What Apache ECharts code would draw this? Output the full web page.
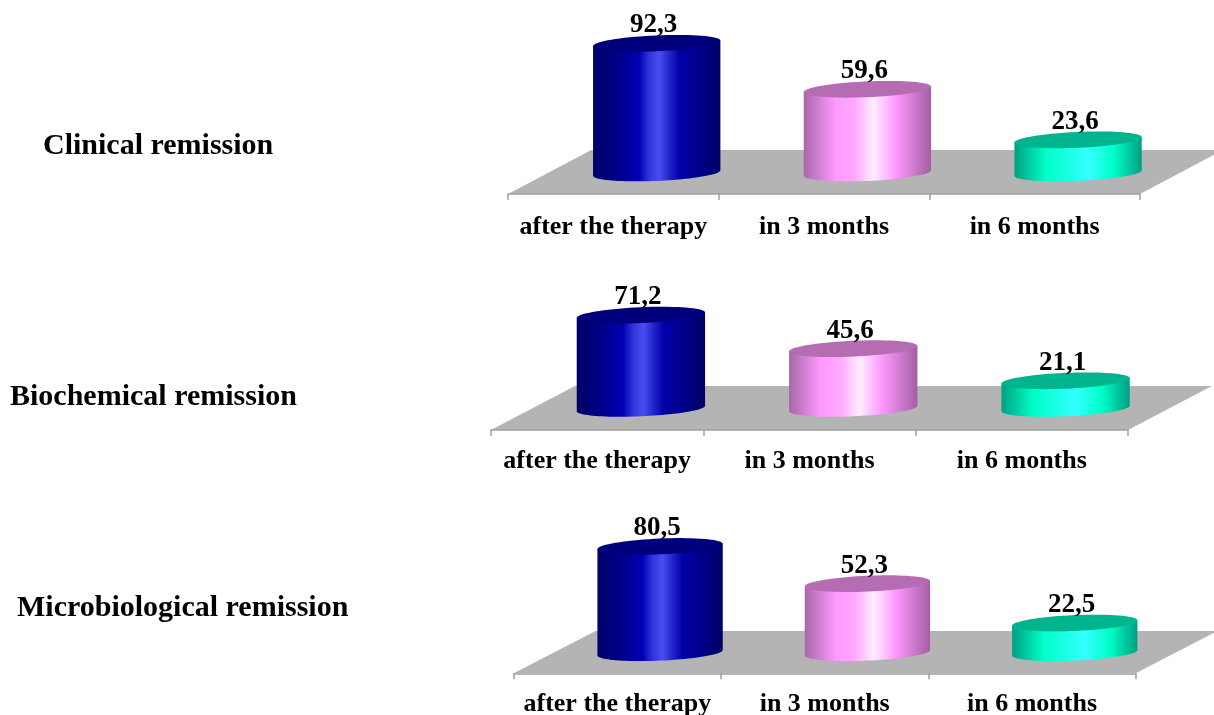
<!DOCTYPE html>
<html>
<head>
<meta charset="utf-8">
<style>html,body{margin:0;padding:0;background:#fff}#chart{width:1214px;height:715px}</style>
<script src="https://cdn.jsdelivr.net/npm/echarts@6/dist/echarts.min.js"></script>
</head>
<body>
<div id="chart"></div>
<script>
// Remission rates at three follow-up points
const periods = ['after the therapy', 'in 3 months', 'in 6 months'];
const clinicalRemission = [92.3, 59.6, 23.6];
const biochemicalRemission = [71.2, 45.6, 21.1];
const microbiologicalRemission = [80.5, 52.3, 22.5];

// Panel layout: plot box on the floor's mid line, plus how far the floor extends around it
const panels = [
  { name: 'Clinical remission', values: clinicalRemission, left: 508, width: 632, top: 32.5, bottom: 173, front: 21, back: 23, labelGap: 20, titleX: 43, titleY: 146 },
  { name: 'Biochemical remission', values: biochemicalRemission, left: 491, width: 637, top: 277.4, bottom: 408.4, front: 21.6, back: 22.4, labelGap: 18, titleX: 10, titleY: 397 },
  { name: 'Microbiological remission', values: microbiologicalRemission, left: 513.7, width: 622, top: 520.7, bottom: 652.7, front: 20.6, back: 21.7, labelGap: 18, titleX: 17, titleY: 608 }
];

const serif = '"Liberation Serif", "Times New Roman", serif';

// Side shading and cap colour of each cylinder
const shades = [
  { cap: '#00007c', side: [[0, '#000068'], [0.2, '#00008a'], [0.36, '#0000b4'], [0.44, '#3034dc'], [0.52, '#4a4cf0'], [0.6, '#2024cc'], [0.68, '#0000a8'], [0.85, '#000088'], [1, '#000064']] },
  { cap: '#b56cb2', side: [[0, '#a868a8'], [0.25, '#ff99ff'], [0.4, '#ffa8ff'], [0.55, '#ffeeff'], [0.72, '#ff99ff'], [1, '#a45ea4']] },
  { cap: '#00b48e', side: [[0, '#00a080'], [0.25, '#00ffc8'], [0.58, '#33ffff'], [0.78, '#00ffc8'], [1, '#009f80']] }
];

const TILT = 2.5 * Math.PI / 180;
const RADIUS_Y = 7.9;
const BAR_SHARE = 0.605;
const DEPTH_SHARE = 0.206;

// Point on a slightly tilted ellipse
function ellipsePoint(cx, cy, a, b, t) {
  const x = a * Math.cos(t), y = b * Math.sin(t);
  return [cx + x * Math.cos(TILT) + y * Math.sin(TILT), cy - x * Math.sin(TILT) + y * Math.cos(TILT)];
}

function renderCylinder(params, api) {
  const band = api.size([1, 0])[0];
  const a = band * BAR_SHARE / 2;
  const depth = band * DEPTH_SHARE;
  const topPt = api.coord([api.value(0), api.value(1)]);
  const basePt = api.coord([api.value(0), 0]);
  const cx = topPt[0] + depth;
  const shade = shades[params.dataIndex];
  const body = [];
  for (let i = 0; i <= 48; i++) body.push(ellipsePoint(cx, basePt[1], a, RADIUS_Y, Math.PI * i / 48));
  body.push(ellipsePoint(cx, topPt[1], a, RADIUS_Y, Math.PI));
  body.push(ellipsePoint(cx, topPt[1], a, RADIUS_Y, 0));
  const cap = [];
  for (let i = 0; i < 72; i++) cap.push(ellipsePoint(cx, topPt[1], a, RADIUS_Y, 2 * Math.PI * i / 72));
  return {
    type: 'group',
    children: [
      {
        type: 'polygon',
        shape: { points: body },
        style: {
          fill: {
            type: 'linear', x: 0, y: 0, x2: 1, y2: 0,
            colorStops: shade.side.map(s => ({ offset: s[0], color: s[1] }))
          }
        }
      },
      { type: 'polygon', shape: { points: cap }, style: { fill: shade.cap } },
      {
        type: 'text',
        style: {
          x: cx - 3, y: topPt[1] - 18,
          text: api.value(1).toFixed(1).replace('.', ','),
          font: 'bold 27px ' + serif, fill: '#000', align: 'center', verticalAlign: 'middle'
        }
      }
    ]
  };
}

// Grey floor sheet running from the axis line back behind the cylinders
function makeFloorRenderer(panel) {
  return function (params, api) {
    const band = api.size([1, 0])[0];
    const shift = band * 0.395;
    const frontY = panel.bottom + panel.front;
    const backY = panel.bottom - panel.back;
    return {
      type: 'polygon',
      shape: {
        points: [
          [panel.left, frontY], [panel.left + panel.width, frontY],
          [panel.left + panel.width + shift, backY], [panel.left + shift, backY]
        ]
      },
      style: { fill: '#b4b4b4' }
    };
  };
}

const option = {
  animation: false,
  backgroundColor: '#fff',
  title: panels.map(p => ({
    text: p.name, left: p.titleX, top: p.titleY - 15,
    padding: 0,
    textStyle: { fontFamily: serif, fontWeight: 'bold', fontSize: 30, color: '#000', lineHeight: 30 }
  })),
  grid: panels.map(p => ({ left: p.left, width: p.width, top: p.top, height: p.bottom - p.top, outerBoundsMode: 'none' })),
  xAxis: panels.map((p, i) => ({
    type: 'category', gridIndex: i, data: periods, offset: p.front, z: 2,
    axisLine: { show: true, onZero: false, lineStyle: { color: '#a0a0a0', width: 1.5 } },
    axisTick: { show: true, length: 6, lineStyle: { color: '#a0a0a0', width: 1.5 } },
    axisLabel: { interval: 0, margin: p.labelGap, fontFamily: serif, fontWeight: 'bold', fontSize: 26, color: '#000', hideOverlap: false }
  })),
  yAxis: panels.map((p, i) => ({ type: 'value', gridIndex: i, min: 0, max: 100, show: false })),
  series: panels.flatMap((p, i) => [
    {
      type: 'custom', xAxisIndex: i, yAxisIndex: i, z: 1, silent: true,
      renderItem: makeFloorRenderer(p), data: [[0, 0]], clip: false
    },
    {
      type: 'custom', xAxisIndex: i, yAxisIndex: i, z: 3,
      renderItem: renderCylinder, data: p.values.map((v, k) => [k, v]), clip: false,
      encode: { x: 0, y: 1 }
    }
  ])
};

echarts.init(document.getElementById('chart')).setOption(option);
</script>
</body>
</html>
